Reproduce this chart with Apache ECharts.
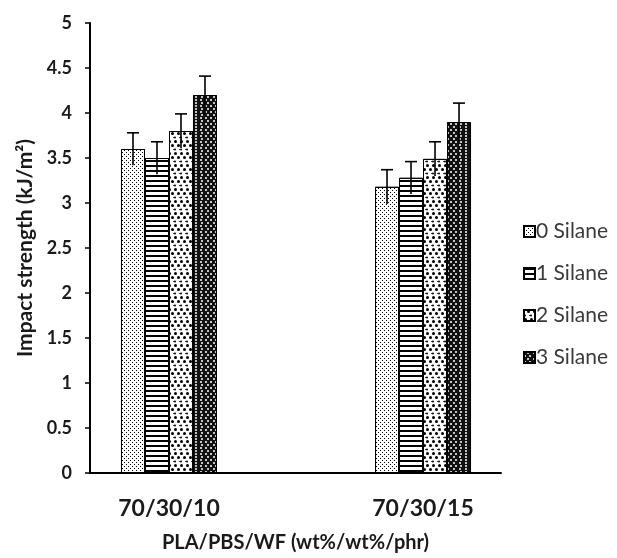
<!DOCTYPE html>
<html>
<head>
<meta charset="utf-8">
<script src="https://cdn.jsdelivr.net/npm/echarts@6/dist/echarts.min.js"></script>
<style>
html,body{margin:0;padding:0;background:#fff;}
#chart{width:617px;height:558px;}
</style>
</head>
<body>
<div id="chart"></div>
<script>
const categories = ['70/30/10', '70/30/15'];
const seriesNames = ['0 Silane', '1 Silane', '2 Silane', '3 Silane'];
const silane0 = [3.60, 3.18];
const silane1 = [3.50, 3.28];
const silane2 = [3.80, 3.49];
const silane3 = [4.20, 3.90];
const err0 = [0.18, 0.19];
const err1 = [0.18, 0.18];
const err2 = [0.19, 0.19];
const err3 = [0.21, 0.21];
const xTitle = 'PLA/PBS/WF (wt%/wt%/phr)';
const yTitle = 'Impact strength (kJ/m²)';

const values = [silane0, silane1, silane2, silane3];
const errors = [err0, err1, err2, err3];

const FONT = 'Lato';
const BAR_W = 24;

const decals = [
  { symbol: 'rect', symbolSize: 1, color: '#000', dashArrayX: [[1, 3], [0, 2, 1, 1]], dashArrayY: [1, 1] },
  { symbol: 'rect', symbolSize: 1, color: '#000', dashArrayX: [1, 0], dashArrayY: [2, 2.5] },
  { symbol: 'circle', symbolSize: 1, color: '#000', dashArrayX: [[2.5, 3], [0, 3, 2.5, 0], [1.5, 3, 1, 0]], dashArrayY: [2.5, 1] },
  { symbol: 'circle', symbolSize: 1, color: '#fff', dashArrayX: [[1.8, 3], [0, 2.4, 1.8, 0.6]], dashArrayY: [1.8, 0.8] }
];
const fills = ['#fff', '#fff', '#fff', '#111'];

const series = [];
values.forEach((vals, k) => {
  series.push({
    name: seriesNames[k],
    type: 'bar',
    barWidth: BAR_W,
    barGap: '0%',
    data: vals.map((v, i) => [i, v]),
    itemStyle: { color: fills[k], borderColor: '#000', borderWidth: 1, decal: decals[k] },
    emphasis: { disabled: true }
  });
});

const errData = [];
values.forEach((vals, k) => {
  vals.forEach((v, i) => errData.push([i, v, errors[k][i], k]));
});

series.push({
  type: 'custom',
  name: 'err',
  z: 10,
  data: errData,
  renderItem: function (params, api) {
    const x = api.value(0), v = api.value(1), e = api.value(2), k = api.value(3);
    const off = (k - 1.5) * BAR_W;
    const top = api.coord([x, v + e]);
    const bot = api.coord([x, v - e]);
    const cx = top[0] + off;
    const style = { stroke: '#000', lineWidth: 1.6 };
    return {
      type: 'group',
      children: [
        { type: 'line', shape: { x1: cx, y1: top[1], x2: cx, y2: bot[1] }, style: style },
        { type: 'line', shape: { x1: cx - 6, y1: top[1], x2: cx + 6, y2: top[1] }, style: style }
      ]
    };
  }
});

const chart = echarts.init(document.getElementById('chart'), null, { renderer: 'canvas' });
chart.setOption({
  animation: false,
  backgroundColor: '#fff',
  grid: { left: 90, right: 116, top: 23, bottom: 78 },
  legend: {
    data: seriesNames,
    orient: 'vertical',
    left: 518,
    top: 216,
    itemWidth: 11,
    itemHeight: 11,
    itemGap: 21,
    icon: 'rect',
    textStyle: { fontFamily: FONT, fontSize: 21, color: '#3a3a3a', padding: [0, 0, 0, -4] }
  },
  xAxis: {
    type: 'value',
    min: -0.311,
    max: 1.307,
    splitLine: { show: false },
    axisLine: { show: true, onZero: false, lineStyle: { color: '#000', width: 2 } },
    axisTick: { show: false },
    axisLabel: {
      customValues: [0, 1],
      formatter: v => categories[Math.round(v)] || '',
      fontFamily: FONT, fontWeight: 'bold', fontSize: 23, color: '#1a1a1a', margin: 24
    },
    name: xTitle,
    nameLocation: 'middle',
    nameGap: 60,
    nameTextStyle: { fontFamily: FONT, fontWeight: 'bold', fontSize: 20, color: '#1a1a1a' }
  },
  yAxis: {
    type: 'value',
    min: 0,
    max: 5,
    interval: 0.5,
    splitLine: { show: false },
    axisLine: { show: true, onZero: false, lineStyle: { color: '#000', width: 2 } },
    axisTick: { show: true, length: 5, lineStyle: { color: '#000', width: 1.5 } },
    axisLabel: { fontFamily: FONT, fontWeight: 'bold', fontSize: 18, color: '#1a1a1a', margin: 18 },
    name: yTitle,
    nameLocation: 'middle',
    nameGap: 54,
    nameTextStyle: { fontFamily: FONT, fontWeight: 'bold', fontSize: 21, color: '#1a1a1a' }
  },
  series: series
});
</script>
</body>
</html>
